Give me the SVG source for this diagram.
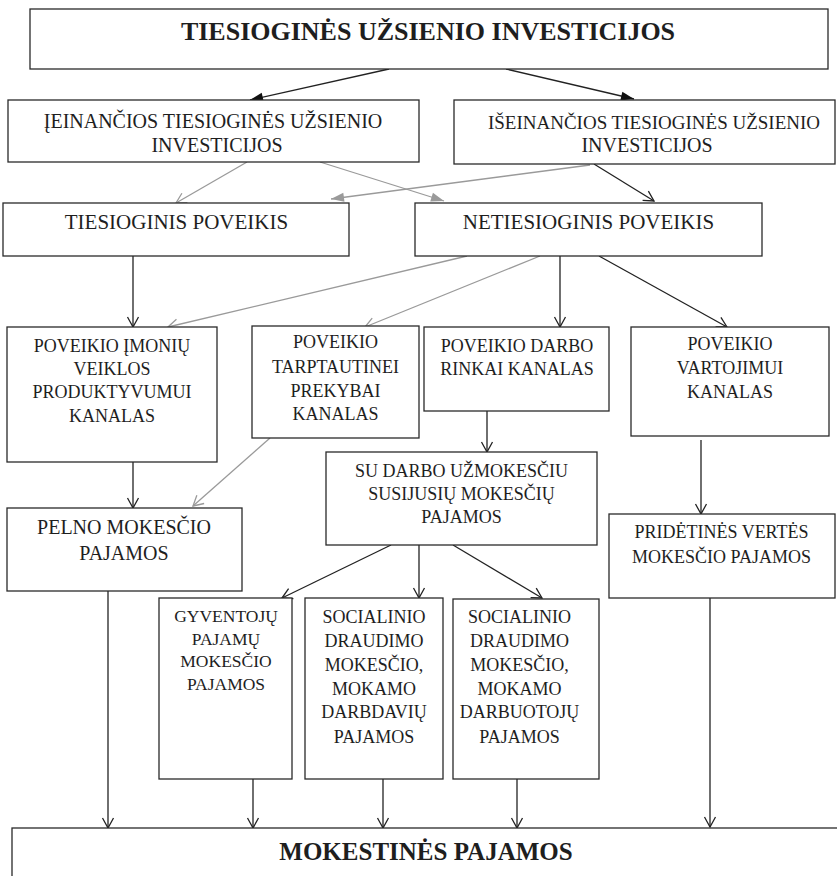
<svg xmlns="http://www.w3.org/2000/svg" width="837" height="876" viewBox="0 0 837 876">
<style>
.box{fill:#fff;stroke:#2a2a2a;stroke-width:1.3}
.t{font-family:"Liberation Serif","Times New Roman",serif;fill:#1e1e1e;text-anchor:middle}
.tb{font-family:"Liberation Serif","Times New Roman",serif;fill:#1e1e1e;text-anchor:middle;font-weight:bold}
.cb{fill:none;stroke:#222;stroke-width:1.3}
.cg{fill:none;stroke:#9a9a9a;stroke-width:1.3}
</style>
<defs>
<marker id="ob" viewBox="-12 -7 13 14" refX="0" refY="0" markerWidth="13" markerHeight="14" markerUnits="userSpaceOnUse" orient="auto"><path d="M-10,-5.5 L0,0 L-10,5.5" fill="none" stroke="#222" stroke-width="1.3"/></marker>
<marker id="og" viewBox="-12 -7 13 14" refX="0" refY="0" markerWidth="13" markerHeight="14" markerUnits="userSpaceOnUse" orient="auto"><path d="M-10,-5.5 L0,0 L-10,5.5" fill="none" stroke="#9a9a9a" stroke-width="1.3"/></marker>
<marker id="fb" viewBox="-14 -6 15 12" refX="0" refY="0" markerWidth="15" markerHeight="12" markerUnits="userSpaceOnUse" orient="auto"><path d="M-13,-4.5 L0,0 L-13,4.5 Z" fill="#111"/></marker>
<marker id="fg" viewBox="-14 -6 15 12" refX="0" refY="0" markerWidth="15" markerHeight="12" markerUnits="userSpaceOnUse" orient="auto"><path d="M-13,-4.5 L0,0 L-13,4.5 Z" fill="#9a9a9a"/></marker>
</defs>
<rect width="837" height="876" fill="#fff"/>

<g id="connectors">
<path class="cb" d="M389,69 L250,100" marker-end="url(#fb)"/>
<path class="cb" d="M506,69 L634,99" marker-end="url(#fb)"/>
<path class="cg" d="M247,162 L176,203" marker-end="url(#og)"/>
<path class="cg" d="M320,162 L444,201" marker-end="url(#fg)"/>
<path class="cg" d="M590,165 L331,199" marker-end="url(#fg)"/>
<path class="cb" d="M594,164 L654,201" marker-end="url(#ob)"/>
<path class="cb" d="M133,256 L133,327" marker-end="url(#ob)"/>
<path class="cg" d="M467,256 L168,327" marker-end="url(#og)"/>
<path class="cg" d="M540,256 L365,327" marker-end="url(#og)"/>
<path class="cb" d="M560,256 L560,327" marker-end="url(#ob)"/>
<path class="cb" d="M599,256 L727,327" marker-end="url(#ob)"/>
<path class="cb" d="M133,462 L133,508" marker-end="url(#ob)"/>
<path class="cg" d="M270,438 L193,506" marker-end="url(#og)"/>
<path class="cb" d="M487,411 L487,452" marker-end="url(#ob)"/>
<path class="cb" d="M701,440 L701,514" marker-end="url(#ob)"/>
<path class="cb" d="M391,545 L282,598" marker-end="url(#ob)"/>
<path class="cb" d="M419,545 L419,598" marker-end="url(#ob)"/>
<path class="cb" d="M453,545 L542,598" marker-end="url(#ob)"/>
<path class="cb" d="M108,591 L108,828" marker-end="url(#ob)"/>
<path class="cb" d="M253,779 L253,828" marker-end="url(#ob)"/>
<path class="cb" d="M383,779 L383,828" marker-end="url(#ob)"/>
<path class="cb" d="M517,779 L517,828" marker-end="url(#ob)"/>
<path class="cb" d="M710,595 L710,827" marker-end="url(#ob)"/>
</g>

<g id="tui">
<rect class="box" x="30" y="9" width="798" height="60"/>
<text class="tb" x="428" y="40" font-size="26">TIESIOGINĖS UŽSIENIO INVESTICIJOS</text>
</g>
<g id="ieinancios">
<rect class="box" x="8" y="100" width="411" height="62"/>
<text class="t" x="213" y="128" font-size="20">ĮEINANČIOS TIESIOGINĖS UŽSIENIO</text>
<text class="t" x="217" y="152" font-size="20">INVESTICIJOS</text>
</g>
<g id="iseinancios">
<rect class="box" x="454" y="100" width="381" height="64"/>
<text class="t" x="654" y="129" font-size="19">IŠEINANČIOS TIESIOGINĖS UŽSIENIO</text>
<text class="t" x="647" y="152" font-size="20">INVESTICIJOS</text>
</g>
<g id="tiesioginis">
<rect class="box" x="3" y="203" width="346" height="53"/>
<text class="t" x="176.5" y="229" font-size="21">TIESIOGINIS POVEIKIS</text>
</g>
<g id="netiesioginis">
<rect class="box" x="415" y="203" width="347" height="53"/>
<text class="t" x="588.5" y="229" font-size="21">NETIESIOGINIS POVEIKIS</text>
</g>
<g id="imoniu">
<rect class="box" x="7" y="327" width="210" height="135"/>
<text class="t" x="112" y="352" font-size="18">POVEIKIO ĮMONIŲ</text>
<text class="t" x="112" y="375" font-size="18">VEIKLOS</text>
<text class="t" x="112" y="398" font-size="18">PRODUKTYVUMUI</text>
<text class="t" x="112" y="422" font-size="18">KANALAS</text>
</g>
<g id="prekybai">
<rect class="box" x="252" y="326" width="167" height="112"/>
<text class="t" x="335.5" y="348" font-size="18">POVEIKIO</text>
<text class="t" x="335.5" y="373" font-size="18">TARPTAUTINEI</text>
<text class="t" x="335.5" y="397" font-size="18">PREKYBAI</text>
<text class="t" x="335.5" y="420" font-size="18">KANALAS</text>
</g>
<g id="darbo">
<rect class="box" x="424" y="327" width="185" height="84"/>
<text class="t" x="517" y="352" font-size="18">POVEIKIO DARBO</text>
<text class="t" x="517" y="375" font-size="18">RINKAI KANALAS</text>
</g>
<g id="vartojimui">
<rect class="box" x="631" y="327" width="198" height="109"/>
<text class="t" x="730" y="350" font-size="18">POVEIKIO</text>
<text class="t" x="730" y="374" font-size="18">VARTOJIMUI</text>
<text class="t" x="730" y="398" font-size="18">KANALAS</text>
</g>
<g id="sudarbo">
<rect class="box" x="326" y="452" width="271" height="93"/>
<text class="t" x="461.5" y="477" font-size="18">SU DARBO UŽMOKESČIU</text>
<text class="t" x="461.5" y="500" font-size="18">SUSIJUSIŲ MOKESČIŲ</text>
<text class="t" x="461.5" y="523" font-size="18">PAJAMOS</text>
</g>
<g id="pelno">
<rect class="box" x="7" y="508" width="235" height="83"/>
<text class="t" x="124" y="534" font-size="20">PELNO MOKESČIO</text>
<text class="t" x="124" y="560" font-size="20">PAJAMOS</text>
</g>
<g id="pvm">
<rect class="box" x="609" y="514" width="226" height="84"/>
<text class="t" x="721.5" y="538" font-size="18">PRIDĖTINĖS VERTĖS</text>
<text class="t" x="721.5" y="563" font-size="18">MOKESČIO PAJAMOS</text>
</g>
<g id="gyventoju">
<rect class="box" x="159" y="598" width="133" height="181"/>
<text class="t" x="226" y="622" font-size="17.5">GYVENTOJŲ</text>
<text class="t" x="226" y="645" font-size="17.5">PAJAMŲ</text>
<text class="t" x="226" y="667" font-size="17.5">MOKESČIO</text>
<text class="t" x="226" y="690" font-size="17.5">PAJAMOS</text>
</g>
<g id="socdarbdaviu">
<rect class="box" x="305" y="598" width="138" height="181"/>
<text class="t" x="374" y="623" font-size="18">SOCIALINIO</text>
<text class="t" x="374" y="647" font-size="18">DRAUDIMO</text>
<text class="t" x="374" y="671" font-size="18">MOKESČIO,</text>
<text class="t" x="374" y="695" font-size="18">MOKAMO</text>
<text class="t" x="374" y="718" font-size="18">DARBDAVIŲ</text>
<text class="t" x="374" y="743" font-size="18">PAJAMOS</text>
</g>
<g id="socdarbuotoju">
<rect class="box" x="453" y="599" width="146" height="180"/>
<text class="t" x="519.5" y="623" font-size="18">SOCIALINIO</text>
<text class="t" x="519.5" y="647" font-size="18">DRAUDIMO</text>
<text class="t" x="519.5" y="671" font-size="18">MOKESČIO,</text>
<text class="t" x="519.5" y="695" font-size="18">MOKAMO</text>
<text class="t" x="519.5" y="718" font-size="18">DARBUOTOJŲ</text>
<text class="t" x="519.5" y="743" font-size="18">PAJAMOS</text>
</g>
<g id="mokestines">
<rect class="box" x="12" y="828" width="840" height="70"/>
<text class="tb" x="426" y="860" font-size="25">MOKESTINĖS PAJAMOS</text>
</g>
</svg>
